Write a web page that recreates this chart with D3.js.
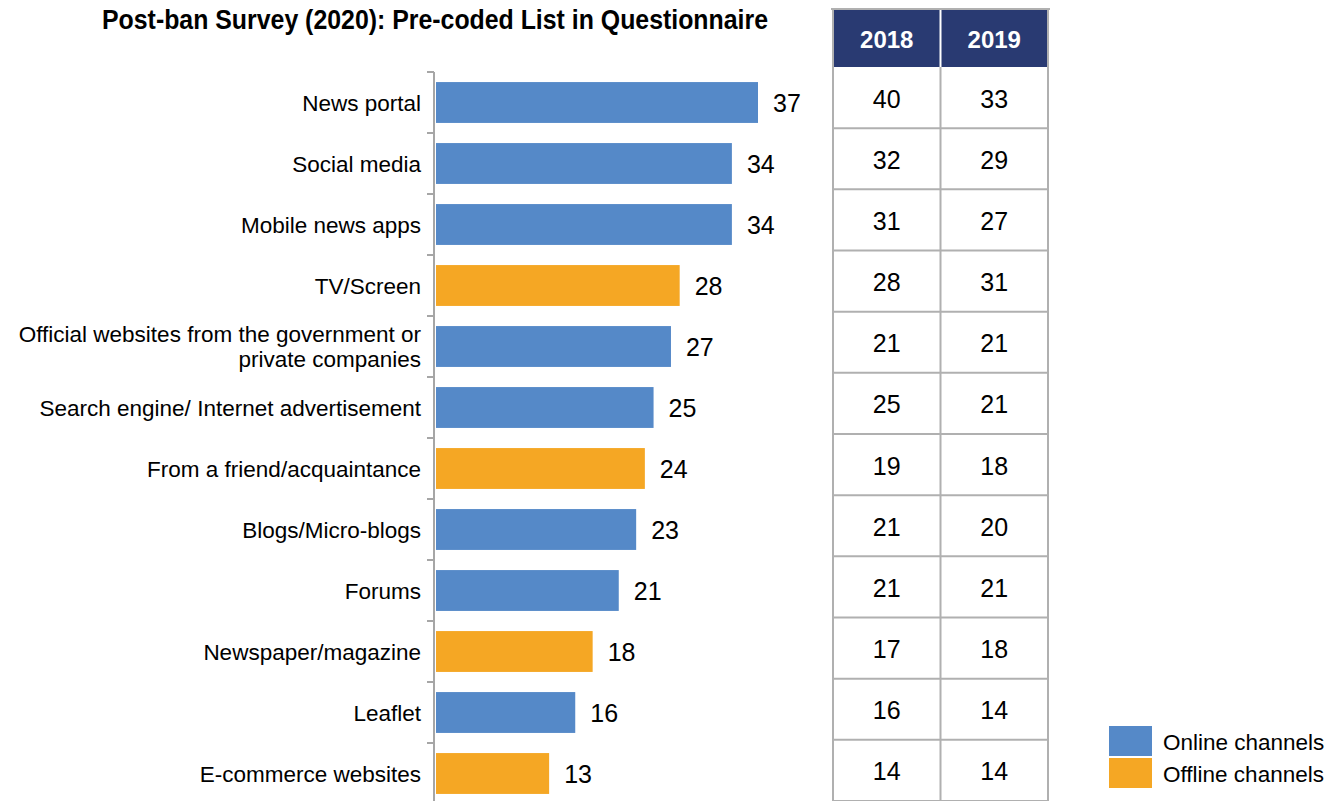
<!DOCTYPE html>
<html>
<head>
<meta charset="utf-8">
<script src="https://cdn.jsdelivr.net/npm/d3@7"></script>
<style>
  html, body { margin: 0; padding: 0; background: #fff; }
  svg { display: block; }
</style>
</head>
<body>
<svg id="chart" width="1329" height="801"></svg>
<script>
const categories = [
  "News portal", "Social media", "Mobile news apps", "TV/Screen",
  "Official websites from the government or\nprivate companies",
  "Search engine/ Internet advertisement", "From a friend/acquaintance",
  "Blogs/Micro-blogs", "Forums", "Newspaper/magazine", "Leaflet", "E-commerce websites"
];
const values2020 = [37, 34, 34, 28, 27, 25, 24, 23, 21, 18, 16, 13];
const channelType = ["Online", "Online", "Online", "Offline", "Online", "Online", "Offline",
                     "Online", "Online", "Offline", "Online", "Offline"];
const years = ["2018", "2019"];
const values2018 = [40, 32, 31, 28, 21, 25, 19, 21, 21, 17, 16, 14];
const values2019 = [33, 29, 27, 31, 21, 21, 18, 20, 21, 18, 14, 14];
const legendLabels = ["Online channels", "Offline channels"];
const titleText = "Post-ban Survey (2020): Pre-coded List in Questionnaire";

const svg = d3.select("#chart");
const FONT = "'Liberation Sans', Arial, sans-serif";

const color = d3.scaleOrdinal().domain(["Online", "Offline"]).range(["#5589C8", "#F5A724"]);

const x = d3.scaleLinear().domain([0, 37]).range([436, 758]);
const y = d3.scaleBand().domain(categories).range([72, 72 + 12 * 61]).paddingInner(0.33).paddingOuter(0.165);

// Title
svg.append("text")
  .attr("x", 102).attr("y", 29)
  .attr("font-family", "'Liberation Sans Narrow', 'Liberation Sans', Arial, sans-serif")
  .attr("font-weight", "bold").attr("font-size", 27)
  .attr("textLength", 666).attr("lengthAdjust", "spacingAndGlyphs")
  .attr("fill", "#000")
  .text(titleText);

// Bars
svg.append("g").selectAll("rect").data(categories).join("rect")
  .attr("x", x(0))
  .attr("y", d => y(d))
  .attr("width", (d, i) => x(values2020[i]) - x(0))
  .attr("height", y.bandwidth())
  .attr("fill", (d, i) => color(channelType[i]));

// Axis line with ticks at band boundaries
const axisX = 434;
const boundaries = d3.range(categories.length + 1).map(i => 72 + i * y.step());
const ag = svg.append("g");
ag.append("line").attr("x1", axisX).attr("x2", axisX).attr("y1", 72).attr("y2", 801)
  .attr("stroke", "#a6a6a6").attr("stroke-width", 2);
ag.selectAll("line.tick").data(boundaries).join("line").attr("class", "tick")
  .attr("x1", axisX - 7).attr("x2", axisX).attr("y1", d => d).attr("y2", d => d)
  .attr("stroke", "#a6a6a6").attr("stroke-width", 2);

// Category labels
const lg = svg.append("g").attr("font-family", FONT).attr("font-size", 22.5).attr("fill", "#000");
categories.forEach((c, i) => {
  const lines = c.split("\n");
  const cy = y(c) + y.bandwidth() / 2;
  const t = lg.append("text").attr("x", 421).attr("text-anchor", "end");
  lines.forEach((ln, j) => {
    t.append("tspan").attr("x", 421)
      .attr("y", cy + 8 + (j - (lines.length - 1) / 2) * 25)
      .text(ln);
  });
});

// Value labels
svg.append("g").attr("font-family", FONT).attr("font-size", 25).attr("fill", "#000")
  .selectAll("text").data(categories).join("text")
  .attr("x", (d, i) => x(values2020[i]) + 15)
  .attr("y", d => y(d) + y.bandwidth() / 2 + 9)
  .text((d, i) => values2020[i]);

// Table
const colX = d3.scaleBand().domain(years).range([833, 1048]);
const rowTop = 67, rowH = (801 - 67) / 12;
const tg = svg.append("g");
// header
tg.append("rect").attr("x", 833).attr("y", 10).attr("width", 215).attr("height", 57).attr("fill", "#293A72");
tg.append("line").attr("x1", 831).attr("x2", 1050).attr("y1", 9).attr("y2", 9).attr("stroke", "#b0b0b0").attr("stroke-width", 2);
tg.append("line").attr("x1", colX("2019")).attr("x2", colX("2019")).attr("y1", 10).attr("y2", 67).attr("stroke", "#ffffff").attr("stroke-width", 2);
tg.selectAll("text.hdr").data(years).join("text").attr("class", "hdr")
  .attr("x", d => colX(d) + colX.bandwidth() / 2).attr("y", 48)
  .attr("text-anchor", "middle").attr("font-family", FONT).attr("font-weight", "bold")
  .attr("font-size", 24).attr("fill", "#fff").text(d => d);
// grid
const gridC = "#b0b0b0";
[833, colX("2019"), 1048].forEach(xx => {
  tg.append("line").attr("x1", xx).attr("x2", xx).attr("y1", xx === colX("2019") ? rowTop : 9).attr("y2", 801)
    .attr("stroke", gridC).attr("stroke-width", 2);
});
d3.range(1, 13).forEach(i => {
  tg.append("line").attr("x1", 833).attr("x2", 1048).attr("y1", rowTop + i * rowH).attr("y2", rowTop + i * rowH)
    .attr("stroke", gridC).attr("stroke-width", 2);
});
[values2018, values2019].forEach((vals, k) => {
  tg.append("g").selectAll("text").data(vals).join("text")
    .attr("x", colX(years[k]) + colX.bandwidth() / 2)
    .attr("y", (d, i) => rowTop + i * rowH + rowH / 2 + 10)
    .attr("text-anchor", "middle").attr("font-family", FONT).attr("font-size", 25).attr("fill", "#000")
    .text(d => d);
});

// Legend
const legTypes = ["Online", "Offline"];
const leg = svg.append("g");
legTypes.forEach((t, i) => {
  leg.append("rect").attr("x", 1109).attr("y", 726 + i * 32).attr("width", 43).attr("height", 30).attr("fill", color(t));
  leg.append("text").attr("x", 1163).attr("y", 750 + i * 32).attr("font-family", FONT).attr("font-size", 22.5)
    .attr("fill", "#000").text(legendLabels[i]);
});
</script>
</body>
</html>
